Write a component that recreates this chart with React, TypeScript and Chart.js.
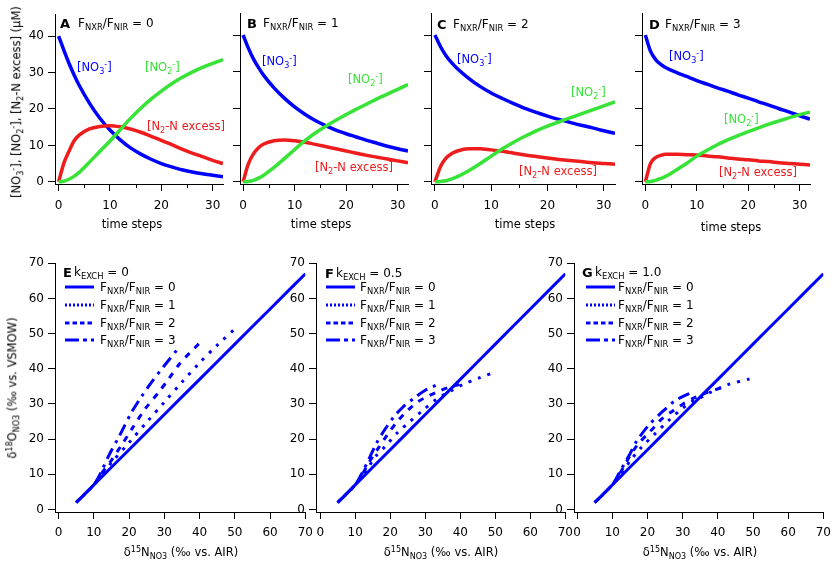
import React, { useEffect, useRef } from "react";
import Chart from "chart.js/auto";
import type { ChartDataset, Plugin } from "chart.js";

const FONT = "'DejaVu Sans', Verdana, sans-serif";
const BLUE = "#0000ff";
const GREEN = "#36e336";
const RED = "#ee1c1c";

// ---- top row: concentrations vs time steps ----
const TIME_STEPS = [0, 1, 2, 3, 4, 6, 8, 10, 12, 14, 16, 18, 20, 22, 24, 26, 28, 30, 32];

const NO3_A = [40, 36.2, 32.6, 29.4, 26.5, 21.6, 17.5, 14.2, 11.5, 9.3, 7.6, 6.2, 5.0, 4.1, 3.3, 2.7, 2.2, 1.8, 1.4];
const NO2_A = [0, 0.15, 0.7, 1.5, 2.6, 5.4, 8.3, 11.2, 14.3, 17.4, 20.2, 22.7, 24.9, 26.9, 28.6, 30.1, 31.4, 32.5, 33.5];
const N2_A = [0, 5.0, 8.3, 11.2, 12.8, 14.5, 15.2, 15.4, 15.1, 14.5, 13.6, 12.5, 11.4, 10.2, 9.0, 7.9, 6.9, 5.9, 5.0];

const NO3_B = [40, 36.5, 33.5, 31.1, 29.0, 25.6, 22.8, 20.4, 18.4, 16.7, 15.3, 14.1, 13.1, 12.2, 11.3, 10.5, 9.7, 9.0, 8.4];
const NO2_B = [0, 0.1, 0.4, 1.0, 1.8, 3.9, 6.3, 8.8, 11.2, 13.3, 15.1, 16.8, 18.3, 19.8, 21.2, 22.6, 23.9, 25.2, 26.5];
const N2_B = [0, 4.8, 7.6, 9.3, 10.3, 11.2, 11.4, 11.2, 10.8, 10.2, 9.6, 9.0, 8.4, 7.8, 7.2, 6.7, 6.2, 5.7, 5.2];

const NO3_C = [40, 36.8, 34.3, 32.4, 30.8, 28.2, 26.0, 24.2, 22.7, 21.3, 20.0, 18.9, 17.9, 17.0, 16.2, 15.4, 14.7, 13.9, 13.2];
const NO2_C = [0, 0.1, 0.3, 0.8, 1.4, 3.0, 4.9, 7.0, 9.0, 10.8, 12.4, 13.9, 15.2, 16.3, 17.4, 18.5, 19.6, 20.7, 21.8];
const N2_C = [0, 4.2, 6.5, 7.7, 8.4, 9.0, 9.0, 8.7, 8.3, 7.8, 7.3, 6.9, 6.5, 6.1, 5.8, 5.5, 5.2, 5.0, 4.8];

const NO3_D = [40, 35.6, 33.3, 32.0, 31.1, 29.8, 28.7, 27.6, 26.6, 25.6, 24.7, 23.7, 22.8, 21.8, 20.9, 19.9, 19.0, 18.0, 17.1];
const NO2_D = [0, 0.1, 0.4, 0.9, 1.5, 3.2, 5.0, 7.0, 8.6, 10.1, 11.4, 12.6, 13.7, 14.7, 15.7, 16.6, 17.5, 18.3, 19.0];
const N2_D = [0, 5.0, 6.6, 7.2, 7.5, 7.5, 7.4, 7.3, 7.0, 6.8, 6.5, 6.2, 6.0, 5.7, 5.5, 5.2, 5.0, 4.8, 4.6];

const TOP_X_TICKS = [0, 10, 20, 30];
const TOP_X_MINOR = [5, 15, 25];
const TOP_Y_TICKS = [0, 10, 20, 30, 40];

// ---- bottom row: d18O vs d15N ----
const N15_F0 = [5, 10, 20, 30, 40, 50, 60, 70];
const O18_F0 = [2, 7, 17, 27, 37, 47, 57, 67];

const N15_E1 = [5, 10, 12, 15, 20, 25, 30, 35, 40, 45, 50];
const O18_E1 = [2, 7, 9.5, 13.3, 19, 24.8, 30.5, 36.2, 41.7, 46.7, 51.3];
const N15_E2 = [5, 10, 12, 15, 18, 21, 24.5, 28.7, 31, 34.4, 37.2, 40];
const O18_E2 = [2, 7, 10, 14, 18.5, 23.2, 28.5, 33.7, 36.8, 41.5, 44.5, 47.3];
const N15_E3 = [5, 10, 12, 14.5, 17.2, 20.7, 23.6, 26.4, 29.7, 33.8];
const O18_E3 = [2, 7, 10.5, 15.8, 20.8, 27.6, 32.2, 36.2, 40.5, 45.6];

const N15_F1 = [5, 10, 12, 14, 15.9, 18.8, 22.1, 25.4, 29.2, 33, 37.3, 40.7, 45.4, 50];
const O18_F1 = [2, 7, 9.5, 12.4, 15.2, 18.2, 21.9, 24.8, 28.1, 31.2, 33.7, 35.5, 37.4, 39.1];
const N15_F2 = [5, 10, 12, 14, 16.5, 19, 22, 25, 28, 31, 34, 37, 39.7];
const O18_F2 = [2, 7, 10, 13.5, 17.3, 21, 25, 28.2, 30.7, 32.3, 33.7, 34.8, 35.5];
const N15_F3 = [5, 10, 12, 14, 16, 18.5, 21, 23.5, 27, 30, 33];
const O18_F3 = [2, 7, 10.5, 14.5, 18.7, 22.8, 26.3, 29, 31.8, 33.9, 35.3];

const N15_G1 = [5, 10, 12, 15.5, 18.3, 22.1, 25.9, 29.7, 33, 35.3, 37.7, 42.9, 49];
const O18_G1 = [2, 7, 9.5, 14.4, 17.7, 21.5, 25.2, 28.6, 30.9, 31.9, 33.2, 35.5, 37.1];
const N15_G2 = [5, 10, 12, 15, 17.4, 19.8, 22.1, 24, 27.3, 30.1, 33.4, 37, 41];
const O18_G2 = [2, 7, 10, 15.2, 18.7, 21.2, 23.6, 25.7, 28.1, 30, 31.8, 33.3, 34.6];
const N15_G3 = [5, 10, 12, 15, 16.9, 20.2, 24, 27.8, 31.5, 33.5];
const O18_G3 = [2, 7, 10.5, 15.8, 19.4, 23.8, 27.6, 30.9, 32.8, 33.5];

const BOTTOM_TICKS = [0, 10, 20, 30, 40, 50, 60, 70];
const RATIOS = ["0", "1", "2", "3"];

// dash patterns for F_NXR/F_NIR = 0..3 (plot, legend)
const PLOT_DASH = [[], [3, 7], [6, 7], [12, 6, 3, 6]];
const LEGEND_DASH = ["", "2 2", "4.5 3", "14 4 4 4"];

const Y_AXIS_W = 40;
const X_AXIS_H = 38;
const PAD_TOP = 10;
const PAD_RIGHT = 14;

type Rect = { left: number; top: number; right: number; bottom: number };

const pairs = (xs: number[], ys: number[]) => xs.map((x, i) => ({ x, y: ys[i] }));

const minorTicksPlugin = (values: number[]): Plugin => ({
    id: "minorTicks",
    afterDraw(chart) {
        const scale = chart.scales.x;
        const ctx = chart.ctx;
        const y0 = chart.chartArea.bottom;
        ctx.save();
        ctx.strokeStyle = "#000";
        ctx.lineWidth = 1;
        values.forEach((v) => {
            const px = Math.round(scale.getPixelForValue(v)) + 0.5;
            ctx.beginPath();
            ctx.moveTo(px, y0);
            ctx.lineTo(px, y0 + 4);
            ctx.stroke();
        });
        ctx.restore();
    },
});

const PlotCanvas: React.FC<{
    area: Rect;
    xMin: number;
    xMax: number;
    yMin: number;
    yMax: number;
    xTicks: number[];
    yTicks: number[];
    yLabels: boolean;
    xPad: number;
    minor?: number[];
    datasets: ChartDataset<"line">[];
}> = ({ area, xMin, xMax, yMin, yMax, xTicks, yTicks, yLabels, xPad, minor, datasets }) => {
    const ref = useRef<HTMLCanvasElement | null>(null);
    const width = area.right - area.left + Y_AXIS_W + PAD_RIGHT;
    const height = area.bottom - area.top + PAD_TOP + X_AXIS_H;

    useEffect(() => {
        const canvas = ref.current;
        if (!canvas) return;
        const tickFont = { family: FONT, size: 12 };
        const chart = new Chart(canvas, {
            type: "line",
            data: { datasets },
            options: {
                responsive: false,
                animation: false,
                events: [],
                layout: { padding: { left: 0, top: PAD_TOP, right: PAD_RIGHT, bottom: 0 } },
                plugins: { legend: { display: false }, tooltip: { enabled: false } },
                elements: { point: { radius: 0 }, line: { borderCapStyle: "butt", borderJoinStyle: "round" } },
                scales: {
                    x: {
                        type: "linear",
                        min: xMin,
                        max: xMax,
                        afterFit: (s: any) => { s.height = X_AXIS_H; },
                        afterBuildTicks: (s: any) => { s.ticks = xTicks.map((value) => ({ value })); },
                        border: { display: true, color: "#000", width: 1 },
                        grid: { drawOnChartArea: false, color: "#000", tickLength: 7 },
                        ticks: { color: "#000", font: tickFont, padding: xPad, maxRotation: 0, autoSkip: false },
                    },
                    y: {
                        type: "linear",
                        min: yMin,
                        max: yMax,
                        afterFit: (s: any) => { s.width = Y_AXIS_W; },
                        afterBuildTicks: (s: any) => { s.ticks = yTicks.map((value) => ({ value })); },
                        border: { display: true, color: "#000", width: 1 },
                        grid: { drawOnChartArea: false, color: "#000", tickLength: 7 },
                        ticks: { display: yLabels, color: "#000", font: tickFont, padding: 4 },
                    },
                },
            },
            plugins: minor ? [minorTicksPlugin(minor)] : [],
        });
        return () => {
            chart.destroy();
        };
    }, []);

    return (
        <canvas
            ref={ref}
            width={width}
            height={height}
            style={{ position: "absolute", left: area.left - Y_AXIS_W, top: area.top - PAD_TOP, width, height }}
        />
    );
};

const Sub: React.FC<{ children: React.ReactNode }> = ({ children }) => (
    <span style={{ fontSize: "0.7em", position: "relative", top: "0.35em" }}>{children}</span>
);
const Sup: React.FC<{ children: React.ReactNode }> = ({ children }) => (
    <span style={{ fontSize: "0.7em", position: "relative", top: "-0.5em" }}>{children}</span>
);

const Txt: React.FC<{
    x: number;
    y: number;
    color?: string;
    size?: number;
    bold?: boolean;
    center?: boolean;
    children: React.ReactNode;
}> = ({ x, y, color = "#000", size = 11.5, bold, center, children }) => (
    <div
        style={{
            position: "absolute",
            left: x,
            top: y,
            transform: center ? "translate(-50%, -50%)" : "translateY(-50%)",
            color,
            fontSize: size,
            fontWeight: bold ? "bold" : "normal",
            fontFamily: FONT,
            whiteSpace: "nowrap",
            lineHeight: 1,
        }}
    >
        {children}
    </div>
);

const VTxt: React.FC<{ x: number; y: number; size?: number; children: React.ReactNode }> = ({ x, y, size = 11.5, children }) => (
    <div
        style={{
            position: "absolute",
            left: x,
            top: y,
            transform: "translate(-50%, -50%) rotate(-90deg)",
            fontSize: size,
            fontFamily: FONT,
            whiteSpace: "nowrap",
            lineHeight: 1,
            color: "#000",
        }}
    >
        {children}
    </div>
);

const Ratio: React.FC<{ value: string }> = ({ value }) => (
    <>
        F<Sub>NXR</Sub>/F<Sub>NIR</Sub> = {value}
    </>
);

const NO3 = () => (<>[NO<Sub>3</Sub><Sup>-</Sup>]</>);
const NO2 = () => (<>[NO<Sub>2</Sub><Sup>-</Sup>]</>);
const N2X = () => (<>[N<Sub>2</Sub>-N excess]</>);

const topLine = (data: number[], color: string): ChartDataset<"line"> => ({
    data: pairs(TIME_STEPS, data) as any,
    borderColor: color,
    borderWidth: 3.5,
    cubicInterpolationMode: "monotone",
    fill: false,
});

const isoLine = (xs: number[], ys: number[], k: number): ChartDataset<"line"> => ({
    data: pairs(xs, ys) as any,
    borderColor: BLUE,
    borderWidth: 3,
    borderDash: PLOT_DASH[k],
    tension: 0.3,
    fill: false,
});

const TOP_PANELS = [
    {
        letter: "A", ratio: "0", area: { left: 55, top: 13, right: 223, bottom: 184 }, xMin: -0.7,
        no3: NO3_A, no2: NO2_A, n2: N2_A, yLabels: true,
        title: { lx: 60, tx: 78, y: 23 }, steps: { x: 132, y: 225 },
        lab: { no3: [77, 68], no2: [145, 68], n2: [147, 127] },
    },
    {
        letter: "B", ratio: "1", area: { left: 240, top: 13, right: 408, bottom: 184 }, xMin: -0.6,
        no3: NO3_B, no2: NO2_B, n2: N2_B, yLabels: false,
        title: { lx: 247, tx: 263, y: 23 }, steps: { x: 321, y: 225 },
        lab: { no3: [262, 62], no2: [348, 80], n2: [315, 168] },
    },
    {
        letter: "C", ratio: "2", area: { left: 431, top: 13, right: 615, bottom: 184 }, xMin: -0.7,
        no3: NO3_C, no2: NO2_C, n2: N2_C, yLabels: false,
        title: { lx: 437, tx: 453, y: 24 }, steps: { x: 525, y: 225 },
        lab: { no3: [457, 60], no2: [571, 93], n2: [519, 172] },
    },
    {
        letter: "D", ratio: "3", area: { left: 642, top: 13, right: 810, bottom: 184 }, xMin: -0.65,
        no3: NO3_D, no2: NO2_D, n2: N2_D, yLabels: false,
        title: { lx: 649, tx: 665, y: 24 }, steps: { x: 731, y: 228 },
        lab: { no3: [669, 57], no2: [724, 120], n2: [719, 173] },
    },
];

const BOTTOM_PANELS = [
    {
        letter: "E", k: "0", area: { left: 55, top: 262, right: 306, bottom: 512 }, xMin: -1,
        series: [[N15_F0, O18_F0], [N15_E1, O18_E1], [N15_E2, O18_E2], [N15_E3, O18_E3]],
        title: { lx: 63, tx: 74, y: 272 }, legend: { lineX: 65, textX: 100 }, axisTitleX: 181,
    },
    {
        letter: "F", k: "0.5", area: { left: 316, top: 262, right: 566, bottom: 512 }, xMin: -1.2,
        series: [[N15_F0, O18_F0], [N15_F1, O18_F1], [N15_F2, O18_F2], [N15_F3, O18_F3]],
        title: { lx: 325, tx: 336, y: 273 }, legend: { lineX: 326, textX: 360 }, axisTitleX: 441,
    },
    {
        letter: "G", k: "1.0", area: { left: 574, top: 262, right: 824, bottom: 512 }, xMin: -0.9,
        series: [[N15_F0, O18_F0], [N15_G1, O18_G1], [N15_G2, O18_G2], [N15_G3, O18_G3]],
        title: { lx: 582, tx: 595, y: 272 }, legend: { lineX: 586, textX: 618 }, axisTitleX: 700,
    },
];

const LEGEND_ROWS_Y = [287, 305, 323, 340];

const LegendLine: React.FC<{ x: number; y: number; dash: string }> = ({ x, y, dash }) => (
    <svg width={30} height={8} style={{ position: "absolute", left: x, top: y - 4 }}>
        <line x1={0} y1={4} x2={29} y2={4} stroke={BLUE} strokeWidth={3} strokeDasharray={dash || undefined} />
    </svg>
);

export default function App() {
    return (
        <div style={{ position: "absolute", left: 0, top: 0, width: 834, height: 567, background: "#fff", overflow: "hidden" }}>
            {TOP_PANELS.map((p) => (
                <React.Fragment key={p.letter}>
                    <PlotCanvas
                        area={p.area}
                        xMin={p.xMin}
                        xMax={32}
                        yMin={-0.6}
                        yMax={46}
                        xTicks={TOP_X_TICKS}
                        yTicks={TOP_Y_TICKS}
                        yLabels={p.yLabels}
                        xPad={8}
                        minor={TOP_X_MINOR}
                        datasets={[topLine(p.no2, GREEN), topLine(p.n2, RED), topLine(p.no3, BLUE)]}
                    />
                    <Txt x={p.title.lx} y={p.title.y} bold size={13}>{p.letter}</Txt>
                    <Txt x={p.title.tx} y={p.title.y} size={12}><Ratio value={p.ratio} /></Txt>
                    <Txt x={p.lab.no3[0]} y={p.lab.no3[1]} color={BLUE}><NO3 /></Txt>
                    <Txt x={p.lab.no2[0]} y={p.lab.no2[1]} color={GREEN}><NO2 /></Txt>
                    <Txt x={p.lab.n2[0]} y={p.lab.n2[1]} color={RED}><N2X /></Txt>
                    <Txt x={p.steps.x} y={p.steps.y} center>time steps</Txt>
                </React.Fragment>
            ))}
            <VTxt x={17} y={102}>
                [NO<Sub>3</Sub><Sup>-</Sup>], [NO<Sub>2</Sub><Sup>-</Sup>], [N<Sub>2</Sub>-N excess] (μM)
            </VTxt>

            {BOTTOM_PANELS.map((p) => (
                <React.Fragment key={p.letter}>
                    <PlotCanvas
                        area={p.area}
                        xMin={p.xMin}
                        xMax={70}
                        yMin={-0.7}
                        yMax={70}
                        xTicks={BOTTOM_TICKS}
                        yTicks={BOTTOM_TICKS}
                        yLabels
                        xPad={7}
                        datasets={p.series.map(([xs, ys], k) => isoLine(xs, ys, k))}
                    />
                    <Txt x={p.title.lx} y={p.title.y} bold size={13}>{p.letter}</Txt>
                    <Txt x={p.title.tx} y={p.title.y} size={12}>k<Sub>EXCH</Sub> = {p.k}</Txt>
                    {RATIOS.map((r, k) => (
                        <React.Fragment key={r}>
                            <LegendLine x={p.legend.lineX} y={LEGEND_ROWS_Y[k]} dash={LEGEND_DASH[k]} />
                            <Txt x={p.legend.textX} y={LEGEND_ROWS_Y[k]} size={12}><Ratio value={r} /></Txt>
                        </React.Fragment>
                    ))}
                    <Txt x={p.axisTitleX} y={553} center>
                        δ<Sup>15</Sup>N<Sub>NO3</Sub> (‰ vs. AIR)
                    </Txt>
                </React.Fragment>
            ))}
            <VTxt x={13} y={388}>
                δ<Sup>18</Sup>O<Sub>NO3</Sub> (‰ vs. VSMOW)
            </VTxt>
        </div>
    );
}
